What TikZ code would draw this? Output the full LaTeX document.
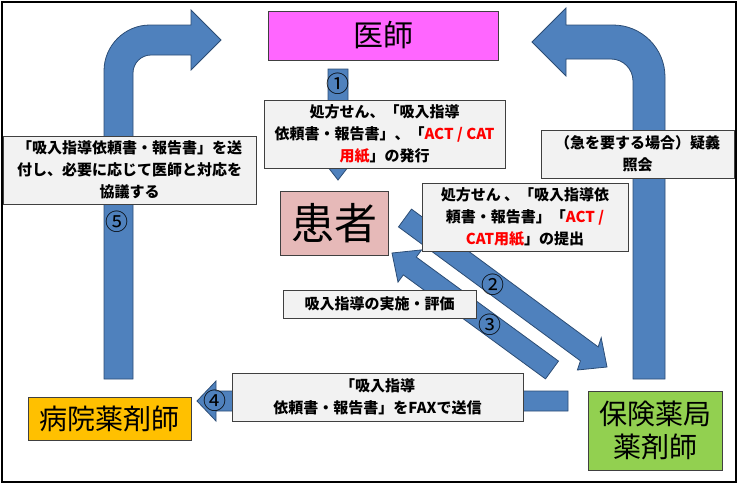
\documentclass[tikz,border=0pt]{standalone}
\usepackage{fontspec}
\setmainfont{Noto Sans CJK JP}
\definecolor{arrowblue}{HTML}{4F81BD}
\definecolor{arrowline}{HTML}{2C4D75}
\definecolor{boxgray}{HTML}{F2F2F2}
\definecolor{boxline}{HTML}{404040}
\definecolor{doctor}{HTML}{FF66FF}
\definecolor{patient}{HTML}{E6B9B8}
\definecolor{hosp}{HTML}{FFC000}
\definecolor{pharm}{HTML}{92D050}
\definecolor{redtext}{HTML}{FF0000}
\begin{document}
\begin{tikzpicture}[x=1pt,y=-1pt,
  barrow/.style={fill=arrowblue,draw=arrowline,line width=0.8pt,line join=miter},
  labelbox/.style={draw=boxline,fill=boxgray,line width=1pt,inner sep=0pt,align=center,font=\bfseries\fontsize{15}{22}\selectfont},
  rolebox/.style={draw=boxline,line width=1pt,inner sep=0pt,align=center},
  num/.style={inner sep=0pt,font=\fontsize{23}{23}\selectfont}]
\useasboundingbox (0,0) rectangle (737,483);
\draw[line width=2pt] (1.5,1.5) rectangle (735.5,481.5);

% left bent arrow (5)
\draw[barrow] (104,379) -- (104,71) .. controls (104,45.6) and (124.6,25) .. (150,25)
  -- (191,25) -- (191,10) -- (221,40) -- (191,70) -- (191,55) -- (151,55)
  .. controls (141.1,55) and (133,63.1) .. (133,73) -- (133,379) -- cycle;
% right bent arrow
\draw[barrow] (633,379) -- (665,379) -- (665,77) .. controls (665,48.3) and (641.7,25) .. (613,25)
  -- (566,25) -- (566,8) -- (532,42) -- (566,76) -- (566,59) -- (611,59)
  .. controls (623.1,59) and (633,68.9) .. (633,81) -- cycle;
% arrow 1
\draw[barrow] (328,69) -- (348,69) -- (348,162) -- (352,162) -- (338,180) -- (324,162) -- (328,162) -- cycle;
% arrow 2
\draw[barrow] (398.5,226.9) -- (411.5,209.1) -- (598.2,346.9) -- (601.2,337.8) -- (607,367)
  -- (577.4,370.0) -- (580.4,360.8) -- cycle;
% arrow 3
\draw[barrow] (558.5,361.1) -- (545.5,378.9) -- (403.3,274.9) -- (398.0,282.1) -- (392,253)
  -- (421.6,249.9) -- (416.3,257.1) -- cycle;
% arrow 4
\draw[barrow] (568,391) -- (568,411) -- (216,411) -- (216,421) -- (197,401) -- (216,381) -- (216,391) -- cycle;

% role boxes
\node[rolebox,fill=doctor,minimum width=230pt,minimum height=49pt,font=\fontsize{30}{30}\selectfont] (doc) at (383,35.5) {医師};
\node[rolebox,fill=patient,minimum width=108pt,minimum height=64pt,font=\fontsize{43}{43}\selectfont] (pat) at (334,223) {患者};
\node[rolebox,fill=hosp,minimum width=163pt,minimum height=43pt,font=\fontsize{28}{28}\selectfont] (hosp) at (109.5,418.5) {病院薬剤師};
\node[rolebox,fill=pharm,minimum width=134pt,minimum height=79pt,font=\fontsize{28}{33}\selectfont] (pharm) at (655,430.5) {保険薬局\\薬剤師};

% label boxes
\node[labelbox,minimum width=241pt,minimum height=68pt] (l1) at (384.5,134)
  {処方せん、「吸入指導\\依頼書・報告書」、「\textcolor{redtext}{ACT / CAT}\\\textcolor{redtext}{用紙}」の発行};
\node[labelbox,minimum width=206pt,minimum height=68pt] (l2) at (525,217)
  {処方せん 、「吸入指導依\\頼書・報告書」「\textcolor{redtext}{ACT /}\\\textcolor{redtext}{CAT用紙}」の提出};
\node[labelbox,minimum width=253pt,minimum height=68pt] (l5) at (129.5,170)
  {「吸入指導依頼書・報告書」を送\\付し、必要に応じて医師と対応を\\協議する};
\node[labelbox,minimum width=193pt,minimum height=48pt] (lq) at (637.5,154)
  {（急を要する場合）疑義\\照会};
\node[labelbox,minimum width=193pt,minimum height=28pt] (l3) at (379.5,304)
  {吸入指導の実施・評価};
\node[labelbox,minimum width=291pt,minimum height=48pt] (l4) at (377.5,397)
  {「吸入指導\\依頼書・報告書」をFAXで送信};

% numbers
\node[num] (n1) at (338,84) {①};
\node[num] (n2) at (493,285) {②};
\node[num] (n3) at (490,325) {③};
\node[num] (n4) at (215,401) {④};
\node[num] (n5) at (117,222) {⑤};
\end{tikzpicture}
\end{document}
